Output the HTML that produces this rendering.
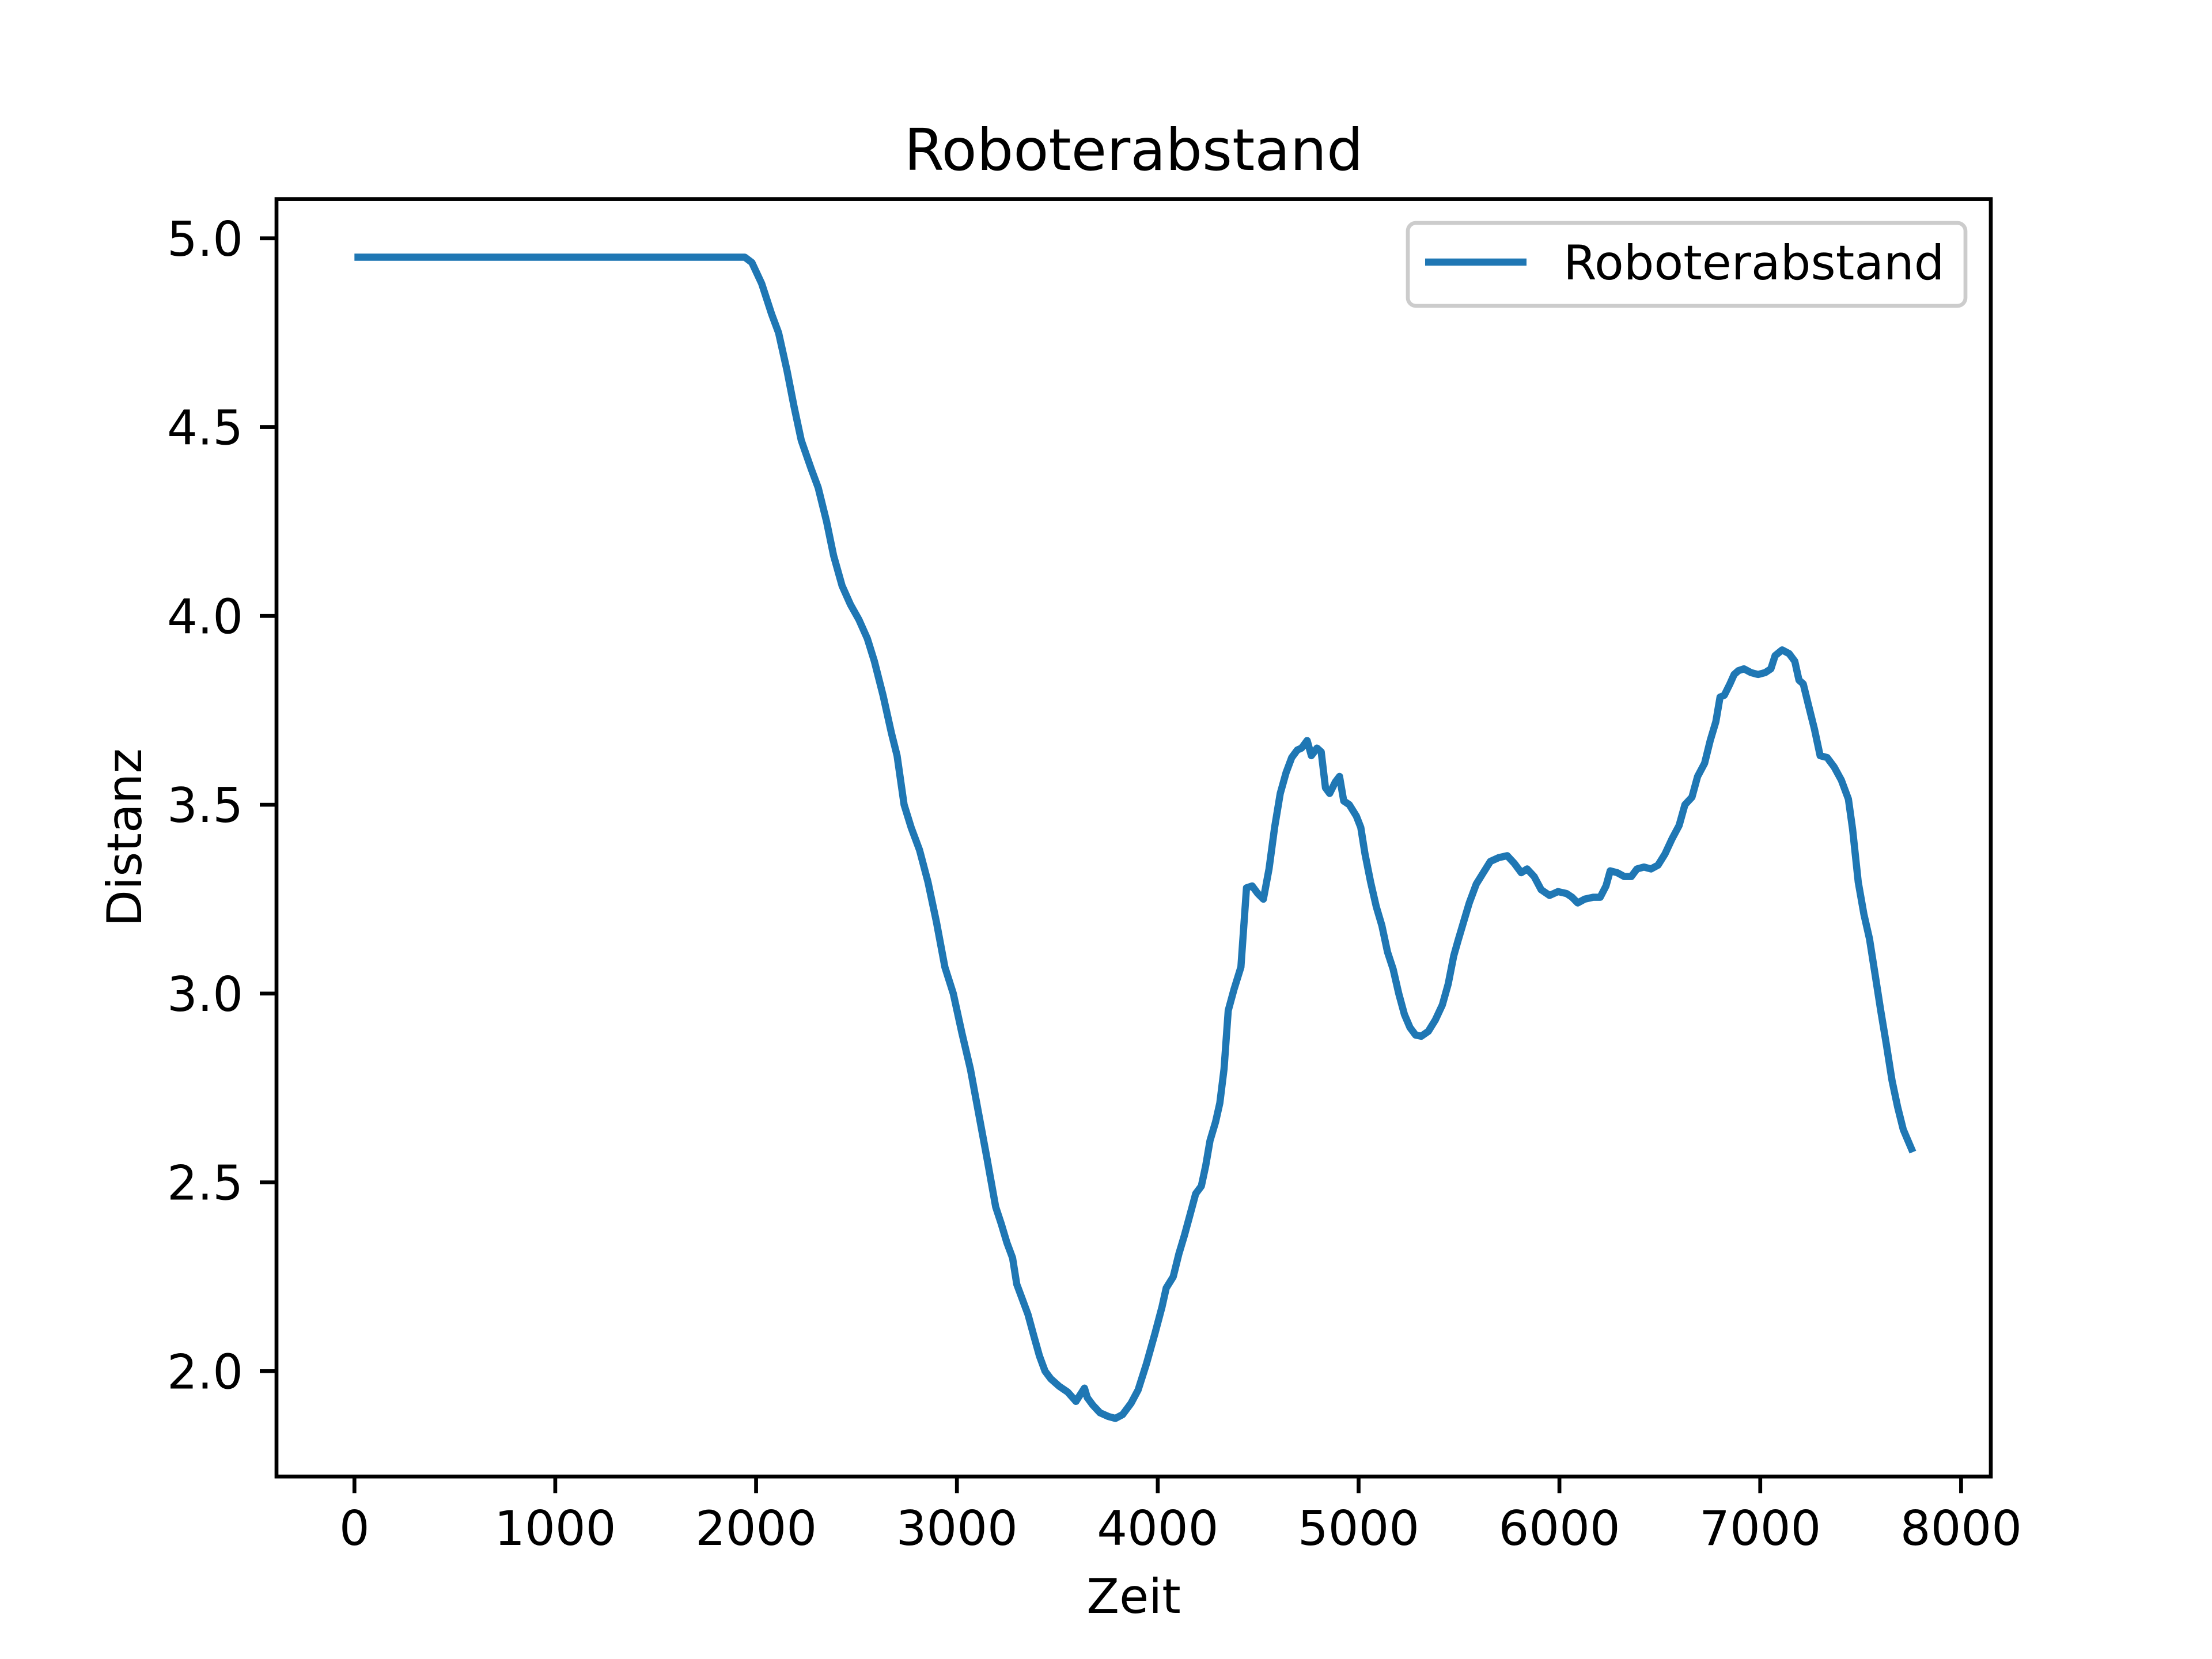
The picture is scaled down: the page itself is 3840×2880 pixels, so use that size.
<!DOCTYPE html>
<html><head><meta charset="utf-8"><style>
html,body{margin:0;padding:0;background:#fff}
svg{display:block}
text{font-family:"DejaVu Sans","Liberation Sans",sans-serif;fill:#000}
</style></head><body>
<svg id="chart" width="3840" height="2880" viewBox="0 0 3840 2880" xmlns="http://www.w3.org/2000/svg">
<rect width="3840" height="2880" fill="#fff"/>
<text x="1968" y="295" font-size="100" text-anchor="middle">Roboterabstand</text>
<g id="xticks"></g>
<g id="yticks"></g>
<path id="line" fill="none" stroke="#1f77b4" stroke-width="12.5" stroke-linejoin="round" stroke-linecap="butt"/>
<rect x="480" y="345.6" width="2976" height="2217.6" fill="none" stroke="#000" stroke-width="6.7"/>
<text x="1968" y="2800" font-size="83" text-anchor="middle">Zeit</text>
<text x="0" y="0" font-size="83" text-anchor="middle" transform="translate(245,1454) rotate(-90)">Distanz</text>
<g>
<rect x="2444" y="387" width="968" height="144" rx="14" fill="#fff" fill-opacity="0.8" stroke="#ccc" stroke-width="6.7"/>
<line x1="2474" y1="455" x2="2650" y2="455" stroke="#1f77b4" stroke-width="12.5"/>
<text x="2714" y="485" font-size="83">Roboterabstand</text>
</g>
</svg>
<script>
const xTicks=[0,1000,2000,3000,4000,5000,6000,7000,8000];
const yTicks=[2.0,2.5,3.0,3.5,4.0,4.5,5.0];
const times=[0,500,1000,1500,1944,1979,2028,2077,2112,2154,2189,2225,2274,2309,2351,2386,2428,2470,2512,2554,2589,2632,2674,2702,2737,2772,2814,2856,2898,2940,2982,3025,3067,3109,3151,3193,3221,3249,3277,3298,3326,3354,3382,3411,3439,3467,3509,3551,3593,3635,3649,3677,3712,3754,3789,3825,3867,3902,3944,3986,4021,4042,4077,4105,4133,4161,4189,4217,4239,4260,4288,4309,4330,4351,4379,4414,4442,4470,4498,4526,4554,4582,4610,4639,4667,4695,4716,4744,4765,4793,4814,4835,4856,4884,4905,4926,4954,4989,5011,5032,5060,5088,5116,5144,5172,5200,5228,5256,5284,5312,5347,5382,5417,5446,5474,5495,5523,5551,5586,5621,5656,5698,5740,5775,5810,5839,5874,5909,5951,5993,6035,6063,6091,6126,6168,6203,6232,6253,6288,6323,6358,6386,6421,6456,6491,6526,6561,6596,6625,6660,6688,6723,6751,6779,6800,6821,6849,6870,6891,6919,6954,6989,7025,7053,7074,7109,7144,7172,7193,7214,7242,7270,7298,7333,7368,7404,7439,7460,7488,7516,7544,7572,7600,7628,7656,7684,7712,7760];
const distances=[4.95,4.95,4.95,4.95,4.95,4.936,4.88,4.80,4.75,4.65,4.555,4.465,4.39,4.34,4.25,4.16,4.08,4.03,3.99,3.94,3.88,3.79,3.69,3.63,3.50,3.44,3.38,3.295,3.19,3.07,3.00,2.895,2.80,2.68,2.56,2.435,2.39,2.34,2.30,2.23,2.19,2.15,2.095,2.04,2.00,1.98,1.96,1.945,1.92,1.955,1.93,1.91,1.89,1.88,1.875,1.885,1.915,1.95,2.02,2.10,2.17,2.22,2.25,2.31,2.36,2.415,2.47,2.49,2.545,2.61,2.66,2.71,2.80,2.955,3.01,3.07,3.28,3.285,3.265,3.25,3.33,3.44,3.53,3.585,3.625,3.645,3.65,3.67,3.63,3.65,3.64,3.545,3.53,3.56,3.575,3.51,3.50,3.47,3.44,3.37,3.295,3.23,3.18,3.11,3.065,3.00,2.945,2.91,2.89,2.887,2.90,2.93,2.97,3.025,3.10,3.14,3.19,3.24,3.29,3.32,3.35,3.36,3.365,3.345,3.32,3.33,3.31,3.275,3.26,3.27,3.265,3.255,3.24,3.25,3.255,3.255,3.285,3.325,3.32,3.31,3.31,3.33,3.335,3.33,3.34,3.37,3.41,3.445,3.50,3.52,3.575,3.61,3.67,3.72,3.785,3.79,3.82,3.845,3.855,3.86,3.85,3.845,3.85,3.86,3.895,3.91,3.90,3.88,3.83,3.82,3.76,3.70,3.63,3.625,3.60,3.565,3.515,3.435,3.295,3.21,3.145,3.05,2.955,2.865,2.77,2.70,2.64,2.58];

const NS='http://www.w3.org/2000/svg';
const L=480,R=3456,T=345.6,B=2563.2;
const xmin=-388,xmax=8148,ymin=1.721,ymax=5.104;
function sx(v){return L+(v-xmin)/(xmax-xmin)*(R-L);}
function sy(v){return B-(v-ymin)/(ymax-ymin)*(B-T);}
const gx=document.getElementById('xticks'),gy=document.getElementById('yticks');
xTicks.forEach(t=>{
  const l=document.createElementNS(NS,'line');
  
  
  l.setAttribute('x1',sx(t));l.setAttribute('x2',sx(t));l.setAttribute('y1',B);l.setAttribute('y2',B+29);
  l.setAttribute('stroke','#000');l.setAttribute('stroke-width','6.7');gx.appendChild(l);
  const s=document.createElementNS(NS,'text');
  
  
  s.setAttribute('x',sx(t));s.setAttribute('y',2682);s.setAttribute('font-size','83');s.setAttribute('text-anchor','middle');
  s.textContent=String(t);gx.appendChild(s);
});
yTicks.forEach(t=>{
  const l=document.createElementNS(NS,'line');
  
  
  l.setAttribute('x1',L-29);l.setAttribute('x2',L);l.setAttribute('y1',sy(t));l.setAttribute('y2',sy(t));
  l.setAttribute('stroke','#000');l.setAttribute('stroke-width','6.7');gy.appendChild(l);
  const s=document.createElementNS(NS,'text');
  
  
  s.setAttribute('x',L-58);s.setAttribute('y',sy(t)+30);s.setAttribute('font-size','83');s.setAttribute('text-anchor','end');
  s.textContent=t.toFixed(1);gy.appendChild(s);
});
let d='';
times.forEach((t,i)=>{d+=(i?'L':'M')+sx(t).toFixed(1)+','+sy(distances[i]).toFixed(1);});
document.getElementById('line').setAttribute('d',d);
</script>
</body></html>
